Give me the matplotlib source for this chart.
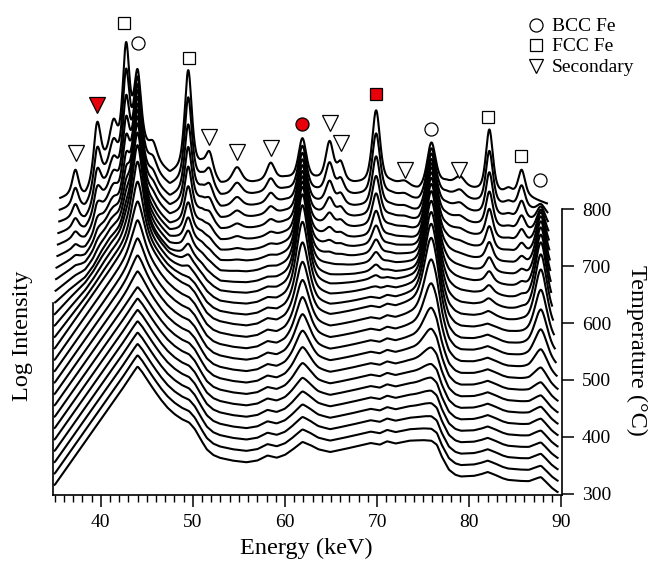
import numpy as np
import matplotlib
matplotlib.use("Agg")
import matplotlib.pyplot as plt

# ---------------- data (values in degC-equivalent offset units) ----------------
temperatures = list(range(300, 801, 20))

# low-temperature (broad) background
low_bg_energy = [35.0, 36.0, 37.0, 38.0, 39.0, 40.0, 41.0, 42.0, 42.8, 43.4, 44.0, 44.5, 45.1, 45.8,
                 46.5, 47.2, 48.0, 48.8, 49.6, 50.2, 50.9, 51.5, 52.2, 52.9, 54.3, 55.8, 57.0, 58.1,
                 59.1, 60.0, 60.8, 61.9, 62.8, 63.6, 64.9, 65.8, 67.5, 69.3, 70.3, 71.1, 72.0, 73.5,
                 75.0, 75.9, 76.5, 77.0, 77.8, 78.5, 79.1, 80.5, 81.3, 82.0, 82.8, 83.6, 84.2, 85.5,
                 86.5, 87.3, 87.8, 88.4, 88.9, 89.6]
low_bg_level = [15, 38, 61, 84, 107, 130, 153, 176, 195, 210, 224, 214, 199, 182,
                166, 152, 140, 131, 125, 114, 94, 78, 68, 63, 58, 55, 58, 67,
                63, 68, 77, 91, 85, 78, 73, 76, 82, 89, 86, 92, 88, 93,
                94, 93, 86, 66, 42, 33, 30, 31, 34, 38, 33, 27, 24, 22,
                21, 25, 27, 18, 10, 2]

# high-temperature background
high_bg_energy = [35.0, 36.5, 38.3, 39.2, 40.0, 41.0, 42.0, 43.0, 44.0, 45.0, 46.0, 47.5, 49.0,
                  51.0, 52.0, 53.0, 56.5, 60.0, 63.5, 67.5, 71.5, 74.5, 77.5, 80.5, 83.5, 86.7,
                  88.0, 89.6]
high_bg_level = [15, 22, 22, 40, 70, 95, 100, 118, 122, 102, 82, 60, 70,
                 75, 60, 43, 46, 54, 51, 44, 46, 33, 47, 34, 26, 19,
                 12, 3]

low_phase_weight = [1.0] * 13 + [0.9, 0.8, 0.7, 0.55, 0.45, 0.35, 0.25, 0.15, 0.1, 0.05, 0.0, 0.0, 0.0]

# BCC Fe reflections: per-temperature sharp peak heights and broadening
bcc_energy = [44.0, 61.9, 75.9, 87.8]
bcc_hwhm = [0.45, 0.5, 0.55, 0.5]
bcc_44_height = [0, 0, 0, 0, 0, 0, 0, 0, 8, 16, 26, 38, 51, 76, 101, 120, 137, 143, 145, 146,
                 146, 142, 138, 132, 123, 114]
bcc_62_height = [0, 2, 4, 6, 9, 13, 19, 27, 36, 45, 55, 65, 77, 95, 115, 128, 133, 130, 123, 116,
                 109, 101, 93, 86, 78, 71]
bcc_76_height = [0, 1, 3, 6, 8, 11, 15, 24, 37, 54, 77, 99, 117, 127, 133, 138, 143, 141, 137, 132,
                 126, 116, 106, 98, 87, 77]
bcc_88_height = [2, 2, 3, 3, 4, 5, 6, 6, 9, 15, 27, 42, 57, 73, 90, 98, 101, 96, 90, 82,
                 72, 60, 45, 31, 15, 0]
bcc_broadening = [2.2, 2.2, 2.15, 2.1, 2.05, 2.0, 1.95, 1.9, 1.85, 1.8, 1.75, 1.7, 1.65, 1.6,
                  1.55, 1.5, 1.45, 1.4, 1.35, 1.3, 1.25, 1.2, 1.15, 1.1, 1.05, 1.0]

# FCC Fe reflections (heights at 800 C) and growth with temperature
fcc_energy = [42.75, 49.5, 69.9, 82.2, 85.7]
fcc_hwhm = [0.42, 0.45, 0.5, 0.45, 0.45]
fcc_height = [170, 172, 128, 110, 47]
fcc_fraction = [0.0] * 14 + [0.03, 0.06, 0.1, 0.15, 0.2, 0.27, 0.35, 0.45, 0.55, 0.68, 0.84, 1.0]

# secondary phase reflections (heights at 800 C)
secondary_energy = [37.25, 39.6, 41.4, 45.7, 51.8, 54.8, 58.45, 64.85, 66.05, 73.0, 79.0, 84.3]
secondary_hwhm = [0.4, 0.45, 0.45, 0.5, 0.45, 0.6, 0.5, 0.5, 0.45, 0.6, 0.6, 0.5]
secondary_height = [45, 94, 50, 25, 35, 28, 30, 68, 32, 8, 16, 10]
secondary_fraction = [0.0] * 17 + [0.03, 0.07, 0.12, 0.2, 0.3, 0.42, 0.57, 0.75, 1.0]

curve_start_keV = [35.0] * 16 + [35.05, 35.1, 35.15, 35.2, 35.3, 35.35, 35.4, 35.5, 35.55, 35.6]
curve_end_keV = [89.6] * 10 + [89.5, 89.4, 89.3, 89.2, 89.1, 89.0, 88.9, 88.85, 88.8, 88.75,
                               88.7, 88.65, 88.6, 88.55, 88.5, 88.45]

# peak labels (energy, height on the plot)
bcc_mark_keV = [44.08, 61.89, 75.86, 87.70]
bcc_mark_level = [1093.7, 950.5, 941.2, 851.9]
fcc_mark_keV = [42.53, 49.59, 69.89, 82.08, 85.60]
fcc_mark_level = [1128.9, 1066.2, 1002.8, 963.4, 894.7]
sec_mark_keV = [37.32, 39.57, 51.76, 54.83, 58.49, 64.90, 66.06, 73.04, 78.94]
sec_mark_level = [899.5, 984.0, 927.6, 901.8, 908.8, 952.8, 917.6, 869.5, 869.5]
bcc_red = [False, True, False, False]
fcc_red = [False, False, True, False, False]
sec_red = [False, True, False, False, False, False, False, False, False]

# ---------------- drawing ----------------
plt.rcParams["font.family"] = ["Liberation Serif", "DejaVu Serif"]

W, H = 653, 561
fig = plt.figure(figsize=(W / 100, H / 100), dpi=100)
ax = fig.add_axes([53.3 / W, 66 / H, (561.7 - 53.3) / W, 495 / H])
y_lo, y_hi = 297.4, 1168.8
ax.set_xlim(34.85, 90.05)
ax.set_ylim(y_lo, y_hi)


def peak(e, c, g):
    lor = 1.0 / (1.0 + ((e - c) / g) ** 2)
    gau = np.exp(-np.log(2) * ((e - c) / g) ** 2)
    return 0.5 * lor + 0.5 * gau


def smooth(y, n=5):
    k = np.ones(n) / n
    pad = np.pad(y, n // 2, mode="edge")
    return np.convolve(pad, k, mode="valid")


bcc_heights = [bcc_44_height, bcc_62_height, bcc_76_height, bcc_88_height]
for i, T in enumerate(temperatures):
    e = np.linspace(curve_start_keV[i], curve_end_keV[i], 1400)
    w = low_phase_weight[i]
    bg = w * np.interp(e, low_bg_energy, low_bg_level) + (1 - w) * np.interp(e, high_bg_energy, high_bg_level)
    prof = smooth(bg)
    for c, g, hts in zip(bcc_energy, bcc_hwhm, bcc_heights):
        prof = prof + hts[i] * peak(e, c, g * bcc_broadening[i])
    for c, g, h in zip(fcc_energy, fcc_hwhm, fcc_height):
        prof = prof + fcc_fraction[i] * h * peak(e, c, g)
    for c, g, h in zip(secondary_energy, secondary_hwhm, secondary_height):
        prof = prof + secondary_fraction[i] * h * peak(e, c, g)
    ax.plot(e, T + prof, color="black", lw=1.5, solid_joinstyle="round", zorder=2)

mk = dict(ls="none", mec="black", mew=0.9, clip_on=False, zorder=5)
for x, y, r in zip(bcc_mark_keV, bcc_mark_level, bcc_red):
    ax.plot([x], [y], marker="o", ms=9.4, mfc="#e8000b" if r else "white", **mk)
for x, y, r in zip(fcc_mark_keV, fcc_mark_level, fcc_red):
    ax.plot([x], [y], marker="s", ms=9.0, mfc="#e8000b" if r else "white", **mk)
for x, y, r in zip(sec_mark_keV, sec_mark_level, sec_red):
    ax.plot([x], [y], marker="v", ms=11.0, mfc="#e8000b" if r else "white", **mk)

# axes styling
ax.spines["top"].set_visible(False)
for s in ["left", "bottom", "right"]:
    ax.spines[s].set_linewidth(1.2)
ax.spines["left"].set_bounds(y_lo, 635)
ax.spines["right"].set_bounds(y_lo, 800)
ax.yaxis.tick_right()
ax.set_yticks([300, 400, 500, 600, 700, 800])
ax.set_xticks([40, 50, 60, 70, 80, 90])
ax.set_xticks(np.arange(35, 91, 1), minor=True)
ax.tick_params(axis="x", which="major", direction="out", length=8.5, width=1.1, labelsize=14, pad=5)
ax.tick_params(axis="x", which="minor", direction="out", length=5, width=1.0)
ax.tick_params(axis="y", which="major", direction="out", length=8.5, width=1.1, labelsize=14, pad=6)

fig.text(306 / W, 1 - 548 / H, "Energy (keV)", fontsize=17.5, ha="center", va="center")
fig.text(22.5 / W, 1 - 336 / H, "Log Intensity", fontsize=17.5, rotation=90, ha="center", va="center")
fig.text(637 / W, 1 - 350 / H, "Temperature (°C)", fontsize=17.5, rotation=270, ha="center", va="center")

# legend
leg_y = [24.5, 45, 66]
leg_m = ["o", "s", "v"]
leg_ms = [9.4, 9.0, 10.5]
leg_t = ["BCC Fe", "FCC Fe", "Secondary"]
for y, m, s, t in zip(leg_y, leg_m, leg_ms, leg_t):
    fig.add_artist(plt.Line2D([536.3 / W], [1 - y / H], marker=m, ms=s, mfc="white", mec="black",
                              mew=0.9, ls="none", transform=fig.transFigure))
    fig.text(551.7 / W, 1 - (y + 6.2) / H, t, fontsize=14, ha="left", va="baseline")

fig.savefig("out.png", dpi=100)
